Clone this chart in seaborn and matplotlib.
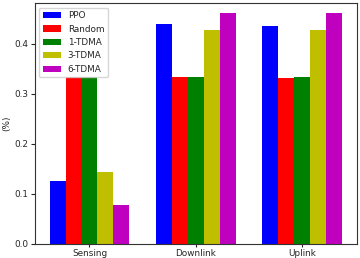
import matplotlib
matplotlib.use("Agg")
import matplotlib.pyplot as plt
import seaborn as sns
import pandas as pd

categories = ["Sensing", "Downlink", "Uplink"]
methods = ["PPO", "Random", "1-TDMA", "3-TDMA", "6-TDMA"]
colors = ["#0000ff", "#ff0000", "#008000", "#bfbf00", "#bf00bf"]
ppo = [0.125, 0.440, 0.435]
random_ = [0.334, 0.333, 0.332]
tdma1 = [0.334, 0.334, 0.334]
tdma3 = [0.143, 0.428, 0.428]
tdma6 = [0.077, 0.461, 0.461]

series = [ppo, random_, tdma1, tdma3, tdma6]
rows = []
for m, vals in zip(methods, series):
    for c, v in zip(categories, vals):
        rows.append({"cat": c, "method": m, "val": v})
df = pd.DataFrame(rows)

sns.set_style("ticks")
plt.rcParams["font.family"] = ["DejaVu Sans"]
fig = plt.figure(figsize=(3.6, 2.58), dpi=100)
ax = fig.add_axes([0.097, 0.055, 0.894, 0.933])
sns.barplot(data=df, x="cat", y="val", hue="method", order=categories,
            hue_order=methods, palette=colors, saturation=1, width=0.75,
            errorbar=None, ax=ax, linewidth=0)
ax.set_xlim(-0.5125, 2.5125)
ax.set_ylim(0, 0.481)
ax.set_xlabel("")
ax.set_ylabel("(%)", fontsize=6.4)
ax.yaxis.set_label_coords(-0.075, 0.5)
ax.tick_params(axis="x", labelsize=6.4, length=2, width=0.8, pad=2)
ax.tick_params(axis="y", labelsize=6.4, length=3, width=0.8, pad=2)
for s in ax.spines.values():
    s.set_visible(True)
    s.set_color("#333333")
    s.set_linewidth(0.8)
leg = ax.legend(loc="upper left", fontsize=6.4, frameon=True, title=None)
fig.savefig("out.png", dpi=100)
